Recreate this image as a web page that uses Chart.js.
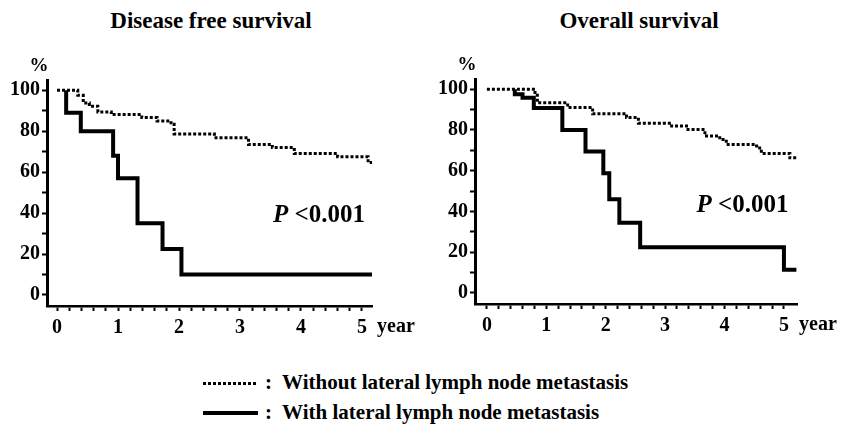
<!DOCTYPE html>
<html>
<head>
<meta charset="utf-8">
<script src="https://cdn.jsdelivr.net/npm/chart.js@4.4.0/dist/chart.umd.min.js"></script>
<style>
  body { margin: 0; background: #fff; width: 841px; height: 425px; position: relative; overflow: hidden;
         font-family: "Liberation Serif", "Times New Roman", serif; font-weight: bold; color: #000; }
  .title { position: absolute; top: 8px; font-size: 23px; text-align: center; width: 420px; }
  .box { position: absolute; top: 40px; height: 300px; }
  .leg { position: absolute; font-size: 21px; white-space: pre; }
  .dots { position: absolute; left: 203px; width: 54px; height: 3px;
          background: repeating-linear-gradient(90deg, #000 0 3px, transparent 3px 5px); }
  .solid { position: absolute; left: 203px; width: 55px; height: 4px; background: #000; }
</style>
</head>
<body>
<div class="title" style="left:1px">Disease free survival</div>
<div class="title" style="left:429px">Overall survival</div>
<div class="box" style="left:0;width:420px"><canvas id="dfsChart" width="420" height="300"></canvas></div>
<div class="box" style="left:420px;width:421px"><canvas id="osChart" width="421" height="300"></canvas></div>

<div class="dots" style="top:382px"></div>
<div class="leg" style="left:265px;top:370px">:  Without lateral lymph node metastasis</div>
<div class="solid" style="top:411px"></div>
<div class="leg" style="left:265px;top:400px">:  With lateral lymph node metastasis</div>

<script>
// Disease free survival, without lateral metastasis (dotted)
var dfsWithoutT = [0, 0.34, 0.43, 0.53, 0.67, 0.89, 1.39, 1.64, 1.87, 1.92, 2.58, 3.14, 3.53, 3.89, 4.6, 5.1, 5.17];
var dfsWithoutS = [100, 97.5, 93.8, 92.2, 89.4, 88.1, 86.7, 85, 83.4, 78.6, 76.8, 73.5, 72, 69.1, 67.5, 64.7, 64.7];
// Disease free survival, with lateral metastasis (solid)
var dfsWithT = [0.15, 0.15, 0.39, 0.92, 1.0, 1.32, 1.73, 2.04, 5.22];
var dfsWithS = [100, 89, 80, 68, 57, 35, 22.4, 10, 10];

// Overall survival, without lateral metastasis (dotted)
var osWithoutT = [0, 0.81, 0.85, 1.36, 1.78, 2.35, 2.55, 3.11, 3.36, 3.67, 3.92, 4.03, 4.54, 4.62, 5.1, 5.21];
var osWithoutS = [100, 97, 93.3, 91, 88, 86.1, 83.3, 81.9, 80.2, 77, 75.3, 72.9, 71.2, 68.5, 66.3, 66.3];
// Overall survival, with lateral metastasis (solid)
var osWithT = [0.47, 0.47, 0.6, 0.79, 1.27, 1.66, 1.96, 2.06, 2.23, 2.58, 5.0, 5.21];
var osWithS = [100, 97.5, 95.8, 90.8, 80, 69.4, 58.8, 46, 34.5, 22.5, 11.4, 11.4];

var yearLabels = [0, 1, 2, 3, 4, 5];
var percentLabels = [0, 20, 40, 60, 80, 100];
var pValueText = "<0.001";

var font = "'Liberation Serif', 'Times New Roman', serif";

function toPoints(t, s) {
  return t.map(function (x, i) { return { x: x, y: s[i] }; });
}

// minor ticks every 0.2 year and every 10 %
function xTickList() {
  var list = [];
  for (var i = 0; i <= 25; i++) list.push({ value: i / 5 });
  return list;
}
function yTickList() {
  var list = [];
  for (var i = 0; i <= 10; i++) list.push({ value: i * 10 });
  return list;
}

// draws %, year and the P value
var extraText = {
  id: "extraText",
  afterDraw: function (chart, args, opts) {
    var ctx = chart.ctx;
    var area = chart.chartArea;
    var xs = chart.scales.x, ys = chart.scales.y;
    ctx.save();
    ctx.fillStyle = "#000";
    ctx.textBaseline = "middle";
    ctx.font = "bold 19px " + font;
    ctx.textAlign = "center";
    ctx.fillText("%", area.left - 8, area.top - 14);
    ctx.font = "bold 20px " + font;
    ctx.textAlign = "left";
    ctx.fillText("year", area.right + opts.yearGap, area.bottom + 21);
    var px = xs.getPixelForValue(opts.pAt[0]);
    var py = ys.getPixelForValue(opts.pAt[1]);
    ctx.font = "italic bold 25px " + font;
    ctx.fillText("P", px, py);
    var w = ctx.measureText("P ").width;
    ctx.font = "bold 25px " + font;
    ctx.fillText(pValueText, px + w, py);
    ctx.restore();
  },
};

function makeChart(id, withoutPts, withPts, box) {
  return new Chart(document.getElementById(id), {
    type: "line",
    data: {
      datasets: [
        {
          data: withPts,
          borderColor: "#000",
          borderWidth: 4,
          stepped: "before",
          pointRadius: 0,
          fill: false,
        },
        {
          data: withoutPts,
          borderColor: "#000",
          borderWidth: 3,
          borderDash: [3, 2],
          borderCapStyle: "butt",
          stepped: "before",
          pointRadius: 0,
          fill: false,
        },
      ],
    },
    options: {
      responsive: false,
      animation: false,
      events: [],
      layout: { padding: { top: box.top, right: box.right, left: 0, bottom: 0 } },
      plugins: {
        legend: { display: false },
        tooltip: { enabled: false },
        extraText: { pAt: box.pAt, yearGap: box.yearGap },
      },
      scales: {
        x: {
          type: "linear",
          min: box.xMin,
          max: box.xMax,
          afterBuildTicks: function (s) { s.ticks = xTickList(); },
          afterFit: function (s) { s.height = box.xHeight; },
          border: { color: "#000", width: 2.5 },
          grid: { drawOnChartArea: false, tickLength: 5, tickColor: "#000", tickWidth: 2 },
          ticks: {
            color: "#000",
            padding: 5,
            maxRotation: 0,
            autoSkip: false,
            font: { family: font, size: 20, weight: "bold" },
            callback: function (v) {
              return yearLabels.indexOf(Math.round(v * 100) / 100) >= 0 ? String(Math.round(v)) : "";
            },
          },
        },
        y: {
          min: -5.4,
          max: 105,
          afterBuildTicks: function (s) { s.ticks = yTickList(); },
          afterFit: function (s) { s.width = box.yWidth; },
          border: { color: "#000", width: 3 },
          grid: { drawOnChartArea: false, tickLength: 5, tickColor: "#000", tickWidth: 2 },
          ticks: {
            color: "#000",
            padding: 2,
            autoSkip: false,
            font: { family: font, size: 20, weight: "bold" },
            callback: function (v) {
              return percentLabels.indexOf(v) >= 0 ? String(v) : "";
            },
          },
        },
      },
    },
    plugins: [extraText],
  });
}

makeChart("dfsChart", toPoints(dfsWithoutT, dfsWithoutS), toPoints(dfsWithT, dfsWithS), {
  top: 40, right: 48, yWidth: 47, xHeight: 34, xMin: -0.164, xMax: 5.164, pAt: [3.54, 39], yearGap: 5,
});
makeChart("osChart", toPoints(osWithoutT, osWithoutS), toPoints(osWithT, osWithS), {
  top: 39, right: 44, yWidth: 55, xHeight: 36, xMin: -0.2, xMax: 5.22, pAt: [3.53, 43], yearGap: 2,
});
</script>
</body>
</html>
